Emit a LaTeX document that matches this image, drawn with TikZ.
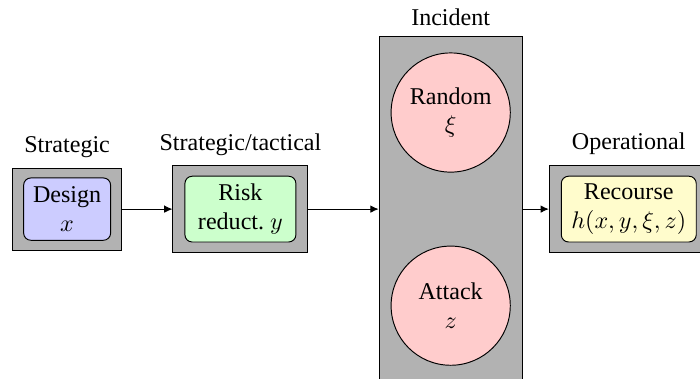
\documentclass[tikz,border=0pt]{standalone}
\usepackage{fontspec}
\setmainfont{LiberationSerif}[Extension=.ttf,UprightFont=*-Regular,
  BoldFont=*-Bold,ItalicFont=*-Italic,BoldItalicFont=*-BoldItalic]
\usepackage{amsmath}
\usetikzlibrary{arrows.meta,positioning}
\tikzset{
  stagebox/.style={draw,fill=black!30,inner sep=0pt},          % grey frame of a stage
  dec/.style={draw,rounded corners=3pt,align=center,inner sep=2pt,
              minimum height=0.96cm},                          % decision inside a frame
  dsg/.style={dec,fill=blue!20},
  rsk/.style={dec,fill=green!20},
  rcs/.style={dec,fill=yellow!20},
  evt/.style={draw,circle,fill=red!20,align=center,minimum size=1.74cm,inner sep=0pt},
  stg/.style={inner sep=2pt},
  ar/.style={-{Latex[length=1.2mm,width=1.1mm]}}
}

\begin{document}
\begin{tikzpicture}
  \useasboundingbox (0,0) rectangle (10.22,5.533);

  % stages, left to right
  \node[stagebox,minimum width=1.60cm,minimum height=1.20cm] (dsgframe) at (0.98,2.48) {};
  \node[dsg,minimum width=1.27cm,minimum height=0.91cm] (design) at (dsgframe) {Design\\$x$};
  \node[stg,above=2pt of dsgframe] (lblstrat) {Strategic};

  \node[stagebox,minimum width=1.97cm,minimum height=1.26cm] (rskframe) at (3.51,2.48) {};
  \node[rsk,minimum width=1.62cm] (risk) at (rskframe) {Risk\\reduct.\ $y$};
  \node[stg,above=2pt of rskframe] (lbltact) {Strategic/tactical};

  \node[stagebox,minimum width=2.09cm,minimum height=5.05cm] (incframe) at (6.58,2.48) {};
  \node[evt] (random) at (6.58,3.89) {Random\\$\xi$};
  \node[evt] (attack) at (6.58,1.07) {Attack\\$z$};
  \node[stg,above=2pt of incframe] (lblinc) {Incident};

  \node[stagebox,minimum width=2.32cm,minimum height=1.27cm] (rcsframe) at (9.18,2.48) {};
  \node[rcs,minimum width=1.97cm] (recourse) at (rcsframe) {Recourse\\$h(x,y,\xi,z)$};
  \node[stg,above=2pt of rcsframe] (lblop) {Operational};

  \draw[ar] (dsgframe) -- (rskframe);
  \draw[ar] (rskframe) -- (incframe);
  \draw[ar] (incframe) -- (rcsframe);
\end{tikzpicture}
\end{document}
